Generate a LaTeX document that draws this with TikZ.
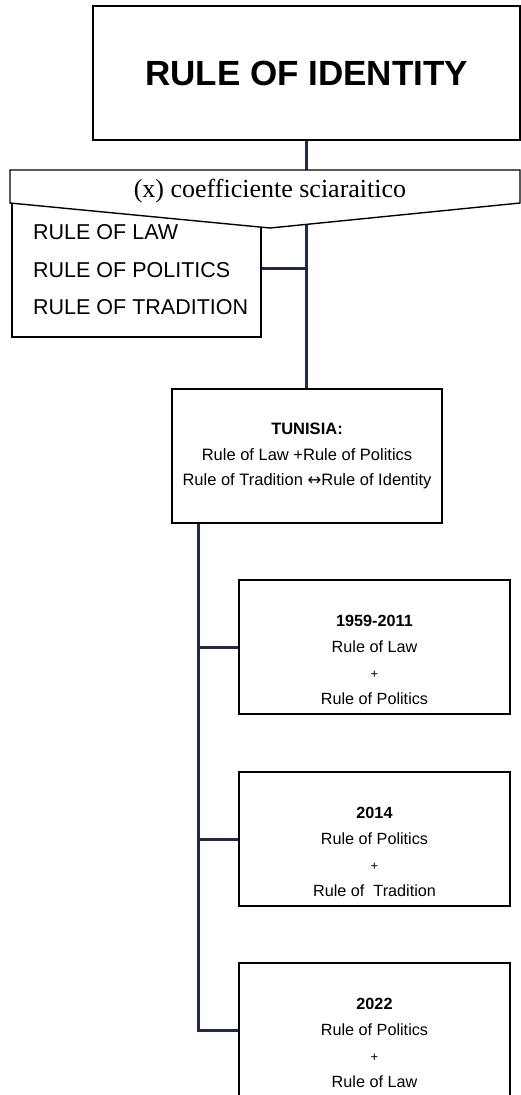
\documentclass[tikz,border=0pt]{standalone}
\usepackage{fontspec}
\setmainfont{Liberation Serif}
\setsansfont{Liberation Sans}
\newfontfamily\arrowfont{DejaVu Sans}
\usepackage{tikz}
\usetikzlibrary{positioning,matrix,calc}
\definecolor{navy}{HTML}{1D2B48}
\newcommand{\lra}{{\arrowfont\char"2194}}
\newcommand{\plussign}{{\fontsize{13}{26}\selectfont +}}

\begin{document}
\begin{tikzpicture}[x=1pt, y=-1pt,
  bigbox/.style={draw=black, line width=1.4pt, minimum width=427pt, minimum height=134pt,
    font=\sffamily\bfseries\fontsize{35}{40}\selectfont},
  rulebox/.style={draw=black, line width=1.4pt, fill=white, minimum width=249pt, minimum height=137pt},
  rulelist/.style={matrix of nodes, nodes=listitem, row sep=17.5pt, inner sep=0pt},
  listitem/.style={anchor=west, inner sep=0pt, text height=15.5pt, text depth=4.5pt,
    font=\sffamily\fontsize{21.5}{24}\selectfont},
  countrybox/.style={draw=black, line width=1.8pt, minimum width=270pt, minimum height=134pt,
    align=center, font=\sffamily\fontsize{16.5}{25.5}\selectfont},
  yearbox/.style={draw=black, line width=1.8pt, minimum width=271pt, minimum height=134pt},
  yeartext/.style={align=center, inner sep=0pt, font=\sffamily\fontsize{16.2}{26}\selectfont},
  link/.style={draw=navy, line width=3pt}
  ]
  \useasboundingbox (0,0) rectangle (521,1095);
  \clip (0,0) rectangle (521,1095);

  \node[bigbox] (identity) at (306.5,73) {RULE OF IDENTITY};
  \node[countrybox] (tunisia) at (307,456)
    {\textbf{TUNISIA:}\\Rule of Law +Rule of Politics\\Rule of Tradition \lra Rule of Identity};

  \draw[link] (identity.south) -- (identity.south |- tunisia.north);

  \node[rulebox] (lawbox) at (136.5,268.5) {};
  \matrix[rulelist, anchor=west] (rules) at (33,271.5) {
    RULE OF LAW\\
    RULE OF POLITICS\\
    RULE OF TRADITION\\
  };
  \draw[link] (lawbox.east) -- (lawbox.east -| identity.south);

  \draw[line width=1.4pt, fill=white] (10,170) -- (520,170) -- (520,203) -- (270,228) -- (10,203) -- cycle;
  \node[font=\fontsize{26}{30}\selectfont, inner sep=0pt] (coeff) at (270,191.5) {(x) coefficiente sciaraitico};

  \node[yearbox] (y1959) at (374.5,647) {};
  \node[yearbox] (y2014) at (374.5,839) {};
  \node[yearbox] (y2022) at (374.5,1030) {};

  \node[yeartext] (t1959) at ([yshift=-13pt]y1959.center)
    {\textbf{1959-2011}\\Rule of Law\\\plussign\\Rule of Politics};
  \node[yeartext] (t2014) at ([yshift=-13pt]y2014.center)
    {\textbf{2014}\\Rule of Politics\\\plussign\\Rule of\ \ Tradition};
  \node[yeartext] (t2022) at ([yshift=-13pt]y2022.center)
    {\textbf{2022}\\Rule of Politics\\\plussign\\Rule of Law};

  \coordinate (trunk) at ([xshift=27pt]tunisia.south west);
  \draw[link] (trunk) |- (y2022.west);
  \draw[link] (trunk |- y1959.west) -- (y1959.west);
  \draw[link] (trunk |- y2014.west) -- (y2014.west);

\end{tikzpicture}
\end{document}
